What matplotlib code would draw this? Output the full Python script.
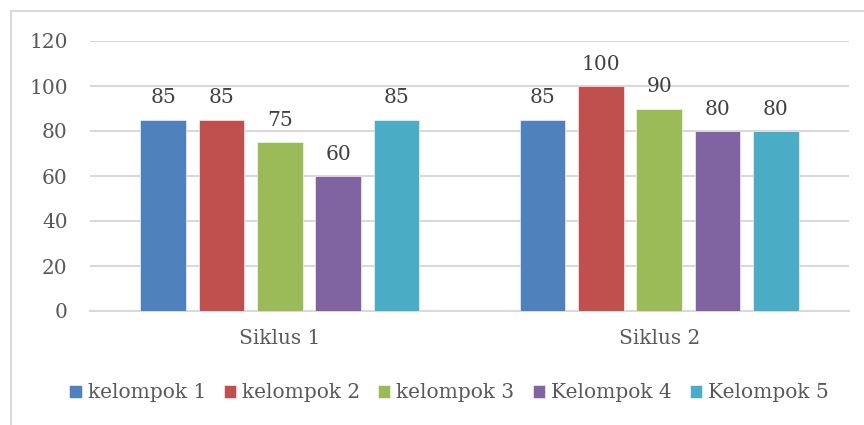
import matplotlib
matplotlib.use('Agg')
import matplotlib.pyplot as plt
from matplotlib.lines import Line2D
import numpy as np

plt.rcParams['font.family'] = ['DejaVu Serif']

categories = ['Siklus 1', 'Siklus 2']
series_names = ['kelompok 1', 'kelompok 2', 'kelompok 3', 'Kelompok 4', 'Kelompok 5']
values = [
    [85, 85],
    [85, 100],
    [75, 90],
    [60, 80],
    [85, 80],
]
colors = ['#4F81BD', '#C0504D', '#9BBB59', '#8064A2', '#4BACC6']
yticks = [0, 20, 40, 60, 80, 100, 120]

text_color = '#595959'
grid_color = '#D9D9D9'
fs = 14.5

fig = plt.figure(figsize=(8.64, 4.25), dpi=100)
ax = fig.add_axes([90 / 864, 114 / 425, 759 / 864, 270 / 425])

x = np.arange(len(categories))
pitch = 0.1536
width = 0.12
for i, (name, vals) in enumerate(zip(series_names, values)):
    pos = x + (i - 2) * pitch
    bars = ax.bar(pos, vals, width, color=colors[i], label=name, zorder=3,
                  edgecolor='white', linewidth=0.4)
    for b, v in zip(bars, vals):
        ax.text(b.get_x() + b.get_width() / 2, v + 5.5, str(v), ha='center', va='bottom',
                fontsize=fs, color='#404040')

ax.set_xlim(-0.5, 1.5)
ax.set_ylim(0, 120)
ax.set_yticks(yticks)
ax.set_xticks(x)
ax.set_xticklabels(categories)
ax.tick_params(axis='both', length=0, labelsize=fs, labelcolor=text_color)
ax.tick_params(axis='y', pad=16)
ax.tick_params(axis='x', pad=13)
ax.yaxis.grid(True, color=grid_color, linewidth=1.5, zorder=0)
for s in ['top', 'right', 'left']:
    ax.spines[s].set_visible(False)
ax.spines['bottom'].set_color(grid_color)
ax.spines['bottom'].set_linewidth(1.5)

leg = fig.legend(loc='center', bbox_to_anchor=(449 / 864, 1 - 393 / 425), ncol=5, frameon=False,
                 fontsize=fs, handlelength=0.6, handleheight=0.6, handletextpad=0.3,
                 columnspacing=0.9, labelcolor=text_color)

# chart area border (top and left only visible in crop)
fig.add_artist(Line2D([11 / 864, 1], [1 - 11 / 425, 1 - 11 / 425], color=grid_color, linewidth=1.5))
fig.add_artist(Line2D([11 / 864, 11 / 864], [0, 1 - 11 / 425], color=grid_color, linewidth=1.5))

fig.savefig('out.png', dpi=100)
